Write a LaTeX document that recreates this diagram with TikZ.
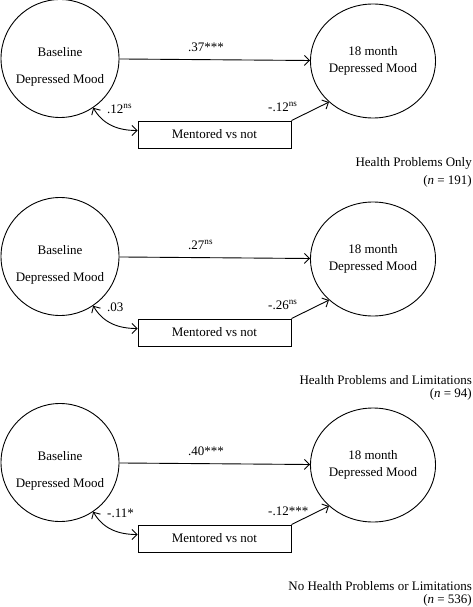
\documentclass[tikz,border=0pt]{standalone}
\usepackage{fontspec}
\setmainfont{Liberation Serif}
\usetikzlibrary{shapes.geometric,arrows.meta,calc}
\tikzset{
 every node/.style={font=\fontsize{13}{15}\selectfont},
 latent/.style={circle,draw,line width=0.9pt,minimum size=118pt,inner sep=0pt},
 outcome/.style={ellipse,draw,line width=0.9pt,minimum width=124pt,minimum height=114pt,inner sep=0pt,align=center,font=\fontsize{13}{17}\selectfont},
 obs/.style={rectangle,draw,line width=0.9pt,minimum width=153pt,minimum height=27pt,inner sep=0pt},
 arr/.style={line width=0.9pt,-{Straight Barb[length=5pt,width=10pt]}},
 darr/.style={line width=0.9pt,{Straight Barb[length=5pt,width=10pt]}-{Straight Barb[length=5pt,width=10pt]}},
 coef/.style={anchor=west,inner sep=0pt},
 captxt/.style={anchor=east,inner sep=0pt},
 txt/.style={inner sep=0pt}
}
\newcommand\mypanel[9]{%
\begin{scope}[yshift=-#2pt]
\node[latent] (b#1) at (60,58.5) {};
\node[txt] (bt#1) at (60,52) {Baseline};
\node[txt] (bd#1) at (60,80) {Depressed Mood};
\node[outcome] (e#1) at (373,61) {18 month\\Depressed Mood};
\node[obs] (m#1) at (214.5,134.5) {Mentored vs not};
\draw[arr] (b#1) -- (e#1);
\draw[arr] (m#1.north east) -- (e#1.-137);
\draw[darr] (b#1.-56) to[out=-60,in=180] ([yshift=4pt]m#1.west);
\node[coef] (la#1) at (188,47) {#3};
\node[coef] (lb#1) at (107,109) {#4};
\node[coef] (lc#1) at (268,107) {#5};
\node[captxt] (c#1) at (472,#8) {#6};
\node[captxt] (n#1) at (472,#9) {(\textit{n} = #7)};
\end{scope}}
\begin{document}
\begin{tikzpicture}[x=1pt,y=-1pt]
\useasboundingbox (0,0) rectangle (473,607);
\mypanel{1}{0}{.37***}{.12\textsuperscript{ns}}{-.12\textsuperscript{ns}}{Health Problems Only}{191}{163}{181}
\mypanel{2}{198}{.27\textsuperscript{ns}}{.03}{-.26\textsuperscript{ns}}{Health Problems and Limitations}{94}{182}{196}
\mypanel{3}{404}{.40***}{-.11*}{-.12***}{No Health Problems or Limitations}{536}{182}{196}
\end{tikzpicture}
\end{document}
